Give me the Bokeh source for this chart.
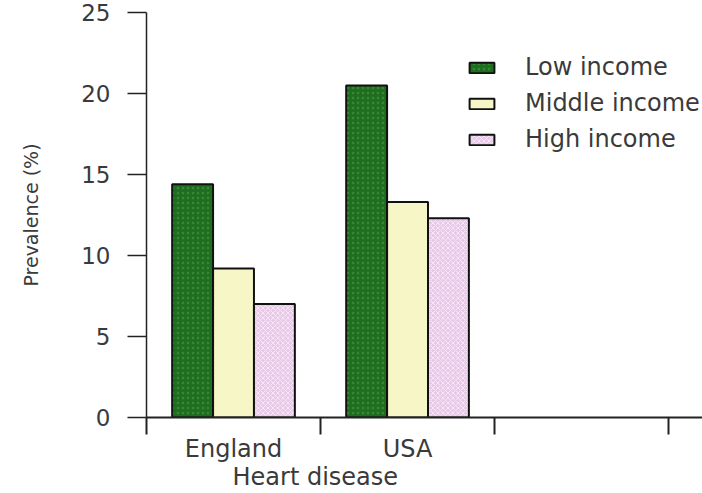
from bokeh.plotting import figure
from bokeh.models import Range1d, FixedTicker, Legend, LegendItem, LinearAxis, ColumnDataSource
from bokeh.embed import file_html
from bokeh.resources import INLINE

categories = ["England", "USA"]
series = ["Low income", "Middle income", "High income"]
low_income = [14.4, 20.5]
middle_income = [9.2, 13.3]
high_income = [7.0, 12.3]
y_ticks = [0, 5, 10, 15, 20, 25]
x_title = "Heart disease"
y_title = "Prevalence (%)"

FONT = "DejaVu Sans"
TXT = "#3a3a3a"
fills = ["#1f6e1f", "#f6f6c6", "#e8c9e8"]
hatch_patterns = ["dot", " ", "diagonal_cross"]
hatch_colors = ["#4e9a4e", "#f6f6c6", "#ffffff"]

p = figure(width=702, height=493, output_backend="svg", toolbar_location=None,
           x_range=Range1d(0, 3.195), y_range=Range1d(0, 25),
           min_border_left=146, min_border_top=12, min_border_right=0,
           min_border_bottom=76)
p.outline_line_color = None
p.xgrid.visible = False
p.ygrid.visible = False
p.background_fill_color = "white"
p.border_fill_color = "white"

# y axis
ya = p.yaxis[0]
ya.ticker = FixedTicker(ticks=y_ticks)
ya.minor_tick_line_color = None
ya.major_tick_in = 0
ya.major_tick_out = 19
ya.major_tick_line_width = 1.5
ya.axis_line_width = 1.5
ya.axis_line_color = "#222222"
ya.major_tick_line_color = "#222222"
ya.major_label_text_font = FONT
ya.major_label_text_font_size = "23px"
ya.major_label_text_color = TXT
ya.major_label_standoff = 17
ya.axis_label = y_title
ya.axis_label_text_font = FONT
ya.axis_label_text_font_size = "19px"
ya.axis_label_text_font_style = "normal"
ya.axis_label_text_color = TXT
ya.axis_label_standoff = 36

# x axis: group boundaries only
xa = p.xaxis[0]
n_groups = len(categories) + 2
xa.ticker = FixedTicker(ticks=list(range(n_groups)))
xa.minor_tick_line_color = None
xa.major_tick_in = 0
xa.major_tick_out = 17
xa.major_tick_line_width = 2
xa.axis_line_width = 2
xa.axis_line_color = "#222222"
xa.major_tick_line_color = "#222222"
xa.major_label_overrides = {i: "" for i in range(n_groups)}
xa.major_label_text_font_size = "1px"
xa.major_label_standoff = 0

# category names
cat_pos = [i + 0.5 for i in range(len(categories))]
ca = LinearAxis(ticker=FixedTicker(ticks=cat_pos),
                major_label_overrides={pos: c for pos, c in zip(cat_pos, categories)},
                axis_line_color=None, major_tick_line_color=None,
                minor_tick_line_color=None, major_tick_out=0, major_tick_in=0,
                major_label_standoff=0, major_label_text_font=FONT,
                major_label_text_font_size="24px", major_label_text_color=TXT)
p.add_layout(ca, "below")

# title below
title_pos = 0.97
ta = LinearAxis(ticker=FixedTicker(ticks=[title_pos]),
                major_label_overrides={title_pos: x_title},
                axis_line_color=None, major_tick_line_color=None,
                minor_tick_line_color=None, major_tick_out=0, major_tick_in=0,
                major_label_standoff=-3, major_label_text_font=FONT,
                major_label_text_font_size="24px", major_label_text_color=TXT)
p.add_layout(ta, "below")

w = 0.235
values = [low_income, middle_income, high_income]
items = []
for j, (name, vals) in enumerate(zip(series, values)):
    src = ColumnDataSource(dict(x=[i + 0.5 + (j - 1) * w for i in range(len(categories))], top=vals))
    r = p.vbar(x="x", top="top", bottom=0, width=w, source=src,
               fill_color=fills[j], line_color="#111111", line_width=2,
               hatch_pattern=hatch_patterns[j], hatch_color=hatch_colors[j],
               hatch_alpha=0.55, hatch_scale=5, hatch_weight=1)
    items.append(LegendItem(label=name, renderers=[r]))

legend = Legend(items=items, location=(320, 264), border_line_color=None,
                background_fill_alpha=0, padding=0, margin=0, spacing=8,
                glyph_width=31, glyph_height=13, label_height=27,
                label_standoff=28, label_text_font=FONT,
                label_text_font_size="24px", label_text_color=TXT)
p.add_layout(legend)

open("out.html", "w").write(file_html(p, INLINE))
